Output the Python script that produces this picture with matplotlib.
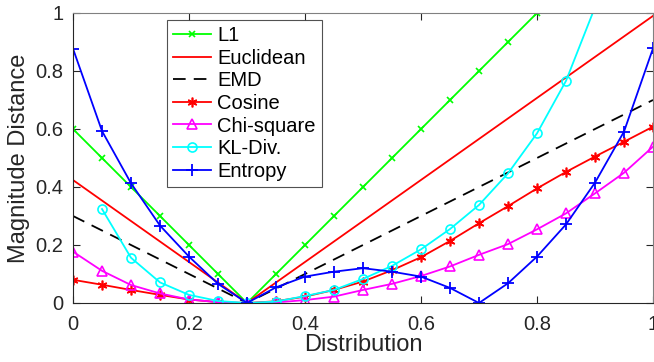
import matplotlib
matplotlib.use("Agg")
import matplotlib.pyplot as plt

plt.rcParams['font.family'] = ['Liberation Sans', 'DejaVu Sans']

x = [0.00, 0.05, 0.10, 0.15, 0.20, 0.25, 0.30, 0.35, 0.40, 0.45, 0.50,
     0.55, 0.60, 0.65, 0.70, 0.75, 0.80, 0.85, 0.90, 0.95, 1.00]

l1 = [0.60, 0.50, 0.40, 0.30, 0.20, 0.10, 0.00, 0.10, 0.20, 0.30, 0.40,
      0.50, 0.60, 0.70, 0.80, 0.90, 1.00, 1.10, 1.20, 1.30, 1.40]

euclid_x = [0.0, 0.3, 1.0]
euclid = [0.424, 0.0, 0.99]

emd_x = [0.0, 0.3, 1.0]
emd = [0.30, 0.0, 0.70]

cosine = [0.080, 0.063, 0.045, 0.028, 0.012, 0.003, 0.000, 0.006, 0.022, 0.045, 0.074,
          0.113, 0.158, 0.214, 0.275, 0.334, 0.395, 0.452, 0.505, 0.556, 0.608]

chisq = [0.177, 0.111, 0.062, 0.033, 0.012, 0.003, 0.000, 0.002, 0.010, 0.022, 0.045,
         0.066, 0.093, 0.126, 0.166, 0.203, 0.254, 0.309, 0.378, 0.449, 0.539]

kl_x = x[1:]
kl = [0.324, 0.156, 0.071, 0.028, 0.007, 0.000, 0.005, 0.024, 0.045, 0.083,
      0.128, 0.185, 0.255, 0.338, 0.447, 0.585, 0.766, 1.02, 1.35, 1.80]

entropy = [0.877, 0.593, 0.413, 0.267, 0.160, 0.066, 0.000, 0.054, 0.091, 0.108, 0.120,
           0.108, 0.091, 0.052, 0.000, 0.068, 0.160, 0.271, 0.415, 0.591, 0.878]

xticks = [0, 0.2, 0.4, 0.6, 0.8, 1]
xticklabels = ["0", "0.2", "0.4", "0.6", "0.8", "1"]
yticks = [0, 0.2, 0.4, 0.6, 0.8, 1]
yticklabels = ["0", "0.2", "0.4", "0.6", "0.8", "1"]

fig = plt.figure(figsize=(6.54, 3.62), dpi=100)
ax = fig.add_axes([73/654, 59/362, 580/654, 290/362])

lw = 1.3
ax.plot(x, l1, color='#00ff00', lw=lw, marker='x', ms=5, mew=1.2, label='L1')
ax.plot(euclid_x, euclid, color='#ff0000', lw=lw, label='Euclidean')
ax.plot(emd_x, emd, color='black', lw=lw, ls=(0, (7, 4.5)), label='EMD')
ax.plot(x, cosine, color='#ff0000', lw=lw, marker=(6, 2, 0), ms=7, mew=1.2, label='Cosine')
ax.plot(x, chisq, color='#ff00ff', lw=lw, marker='^', ms=7, mfc='none', mew=1.2, label='Chi-square')
ax.plot(kl_x, kl, color='#00ffff', lw=lw, marker='o', ms=6.5, mfc='none', mew=1.2, label='KL-Div.')
ax.plot(x, entropy, color='#0000ff', lw=lw, marker='+', ms=9, mew=1.3, label='Entropy')

ax.set_xlim(0, 1)
ax.set_ylim(0, 1)
ax.set_xticks(xticks)
ax.set_xticklabels(xticklabels)
ax.set_yticks(yticks)
ax.set_yticklabels(yticklabels)

axc = '#262626'
for s in ax.spines.values():
    s.set_color(axc)
    s.set_linewidth(0.8)
ax.spines['top'].set_color('#808080')
ax.spines['right'].set_color('#808080')
ax.tick_params(direction='in', top=True, right=True, length=5, width=0.8,
               colors=axc, labelsize=14.5)
ax.tick_params(axis='x', pad=8.5)
ax.tick_params(axis='y', pad=7)
ax.set_xlabel('Distribution', fontsize=17, color=axc, labelpad=0)
ax.set_ylabel('Magnitude Distance', fontsize=17, color=axc, labelpad=4)

leg = ax.legend(loc='upper left', bbox_to_anchor=(0.162, 0.976), fontsize=14.5,
                frameon=True, fancybox=False, edgecolor=axc, handlelength=1.9,
                handletextpad=0.3, borderpad=0.3, labelspacing=0.18, borderaxespad=0)
leg.get_frame().set_linewidth(0.8)

fig.savefig('out.png', dpi=100)
